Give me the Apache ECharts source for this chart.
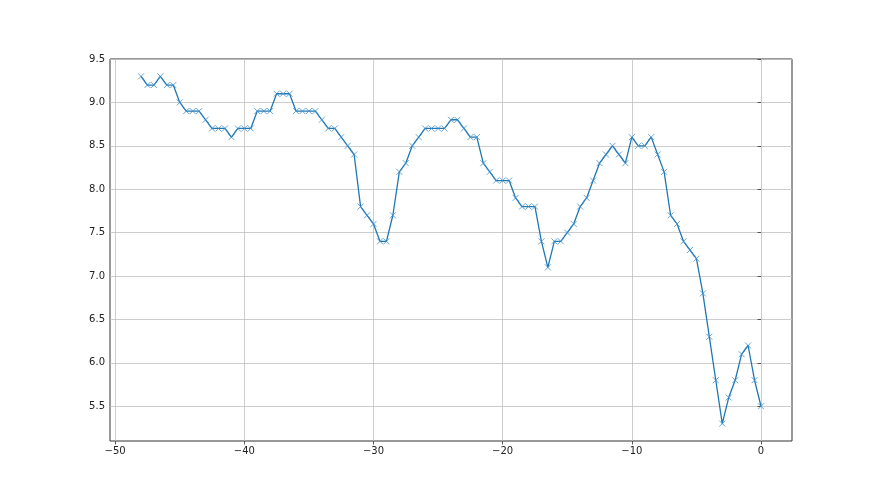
<!DOCTYPE html>
<html>
<head>
<meta charset="utf-8">
<script src="https://cdn.jsdelivr.net/npm/echarts@6/dist/echarts.min.js"></script>
<style>
html,body{margin:0;padding:0;background:#fff;}
#chart{width:880px;height:495px;}
</style>
</head>
<body>
<div id="chart"></div>
<script>
const xValues = [-48,-47.5,-47,-46.5,-46,-45.5,-45,-44.5,-44,-43.5,-43,-42.5,-42,-41.5,-41,-40.5,-40,-39.5,-39,-38.5,-38,-37.5,-37,-36.5,-36,-35.5,-35,-34.5,-34,-33.5,-33,-32.5,-32,-31.5,-31,-30.5,-30,-29.5,-29,-28.5,-28,-27.5,-27,-26.5,-26,-25.5,-25,-24.5,-24,-23.5,-23,-22.5,-22,-21.5,-21,-20.5,-20,-19.5,-19,-18.5,-18,-17.5,-17,-16.5,-16,-15.5,-15,-14.5,-14,-13.5,-13,-12.5,-12,-11.5,-11,-10.5,-10,-9.5,-9,-8.5,-8,-7.5,-7,-6.5,-6,-5.5,-5,-4.5,-4,-3.5,-3,-2.5,-2,-1.5,-1,-0.5,0];
const yValues = [9.3,9.2,9.2,9.3,9.2,9.2,9.0,8.9,8.9,8.9,8.8,8.7,8.7,8.7,8.6,8.7,8.7,8.7,8.9,8.9,8.9,9.1,9.1,9.1,8.9,8.9,8.9,8.9,8.8,8.7,8.7,8.6,8.5,8.4,7.8,7.7,7.6,7.4,7.4,7.7,8.2,8.3,8.5,8.6,8.7,8.7,8.7,8.7,8.8,8.8,8.7,8.6,8.6,8.3,8.2,8.1,8.1,8.1,7.9,7.8,7.8,7.8,7.4,7.1,7.4,7.4,7.5,7.6,7.8,7.9,8.1,8.3,8.4,8.5,8.4,8.3,8.6,8.5,8.5,8.6,8.4,8.2,7.7,7.6,7.4,7.3,7.2,6.8,6.3,5.8,5.3,5.6,5.8,6.1,6.2,5.8,5.5];
const xTicks = [-50,-40,-30,-20,-10,0];
const yTicks = [5.5,6.0,6.5,7.0,7.5,8.0,8.5,9.0,9.5];

const chart = echarts.init(document.getElementById('chart'), null, {renderer:'canvas'});
const fmtX = v => (v < 0 ? '\u2212' + Math.abs(v) : String(v));
const fmtY = v => Number(v).toFixed(1);
const labelStyle = {color:'#222', fontSize:10, fontFamily:'DejaVu Sans'};
chart.setOption({
  animation:false,
  backgroundColor:'#fff',
  grid:{left:110, right:88, top:59, bottom:54, show:true, borderColor:'#333', borderWidth:1, backgroundColor:'transparent'},
  xAxis:{
    type:'value', min:-50.4, max:2.4,
    axisLine:{show:false},
    axisTick:{show:true, customValues:xTicks, length:3.5, lineStyle:{color:'#333', width:0.8}},
    axisLabel:{customValues:xTicks, formatter:fmtX, margin:5, ...labelStyle},
    splitLine:{show:true, lineStyle:{color:'#c0c0c0', width:0.8}}
  },
  yAxis:{
    type:'value', min:5.1, max:9.5,
    axisLine:{show:false},
    axisTick:{show:true, customValues:yTicks, length:3.5, lineStyle:{color:'#333', width:0.8}},
    axisLabel:{customValues:yTicks, formatter:fmtY, margin:5, ...labelStyle},
    splitLine:{show:true, lineStyle:{color:'#c0c0c0', width:0.8}}
  },
  series:[{
    type:'line',
    data:xValues.map((x,i)=>[x, yValues[i]]),
    symbol:'path://M0,0L10,10M10,0L0,10',
    symbolSize:6,
    showSymbol:true,
    lineStyle:{color:'#1f77b4', width:1.3},
    itemStyle:{color:'#1f77b4', borderColor:'#3f8fcc', borderWidth:0.8},
    emphasis:{disabled:true}
  }]
});
</script>
</body>
</html>
